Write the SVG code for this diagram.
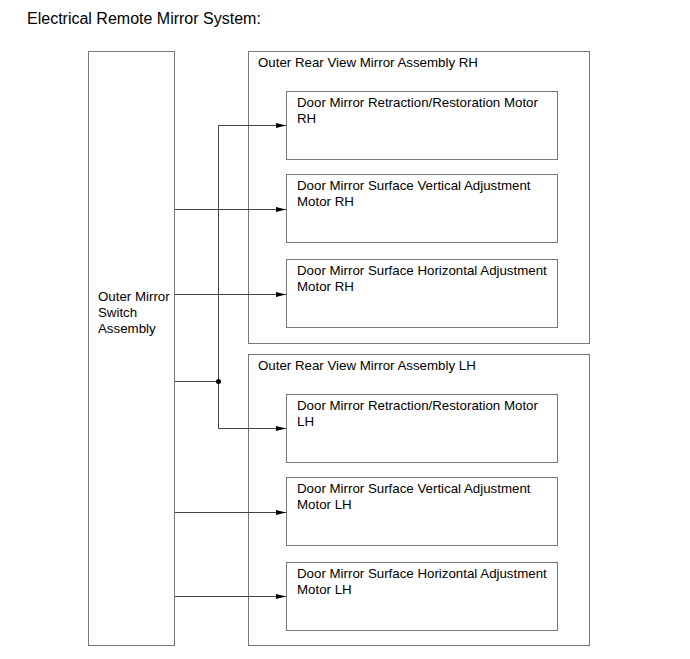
<svg xmlns="http://www.w3.org/2000/svg" width="690" height="659" viewBox="0 0 690 659">
<style>
text{font-family:"Liberation Sans",Arial,sans-serif;font-size:13.3px;fill:#000}
.t{font-size:16px}
.b{fill:#fff;stroke:#777;stroke-width:1}
.c{fill:none;stroke:#444;stroke-width:1}
</style>
<defs>
<marker id="ah" markerWidth="10" markerHeight="6" refX="10" refY="3" orient="auto" markerUnits="userSpaceOnUse">
<path d="M0,0.5 L10,3 L0,5.5 Z" fill="#000"/>
</marker>
</defs>
<rect width="690" height="659" fill="#fff"/>
<text class="t" x="27" y="24">Electrical Remote Mirror System:</text>
<g id="switch">
<rect class="b" x="88.5" y="51.5" width="86" height="594"/>
<text x="98" y="301">Outer Mirror</text>
<text x="98" y="317">Switch</text>
<text x="98" y="333">Assembly</text>
</g>
<g id="rh-assembly">
<rect class="b" x="248.5" y="51.5" width="341" height="292"/>
<text x="258" y="67">Outer Rear View Mirror Assembly RH</text>
</g>
<g id="rh-retract">
<rect class="b" x="286.5" y="91.5" width="271" height="68"/>
<text x="297" y="107">Door Mirror Retraction/Restoration Motor</text>
<text x="297" y="123">RH</text>
</g>
<g id="rh-vert">
<rect class="b" x="286.5" y="174.5" width="271" height="68"/>
<text x="297" y="190">Door Mirror Surface Vertical Adjustment</text>
<text x="297" y="206">Motor RH</text>
</g>
<g id="rh-horiz">
<rect class="b" x="286.5" y="259.5" width="271" height="68"/>
<text x="297" y="275">Door Mirror Surface Horizontal Adjustment</text>
<text x="297" y="291">Motor RH</text>
</g>
<g id="lh-assembly">
<rect class="b" x="248.5" y="354.5" width="341" height="291"/>
<text x="258" y="370">Outer Rear View Mirror Assembly LH</text>
</g>
<g id="lh-retract">
<rect class="b" x="286.5" y="394.5" width="271" height="68"/>
<text x="297" y="410">Door Mirror Retraction/Restoration Motor</text>
<text x="297" y="426">LH</text>
</g>
<g id="lh-vert">
<rect class="b" x="286.5" y="477.5" width="271" height="68"/>
<text x="297" y="493">Door Mirror Surface Vertical Adjustment</text>
<text x="297" y="509">Motor LH</text>
</g>
<g id="lh-horiz">
<rect class="b" x="286.5" y="562.5" width="271" height="68"/>
<text x="297" y="578">Door Mirror Surface Horizontal Adjustment</text>
<text x="297" y="594">Motor LH</text>
</g>
<g id="connectors">
<path class="c" d="M175,381.5 H218.5"/>
<path class="c" d="M218.5,381.5 V125.5 H286" marker-end="url(#ah)"/>
<path class="c" d="M218.5,381.5 V428.5 H286" marker-end="url(#ah)"/>
<path class="c" d="M175,209.5 H286" marker-end="url(#ah)"/>
<path class="c" d="M175,294.5 H286" marker-end="url(#ah)"/>
<path class="c" d="M175,512.5 H286" marker-end="url(#ah)"/>
<path class="c" d="M175,596.5 H286" marker-end="url(#ah)"/>
<circle cx="218.5" cy="381.5" r="2.5" fill="#000"/>
</g>
</svg>
